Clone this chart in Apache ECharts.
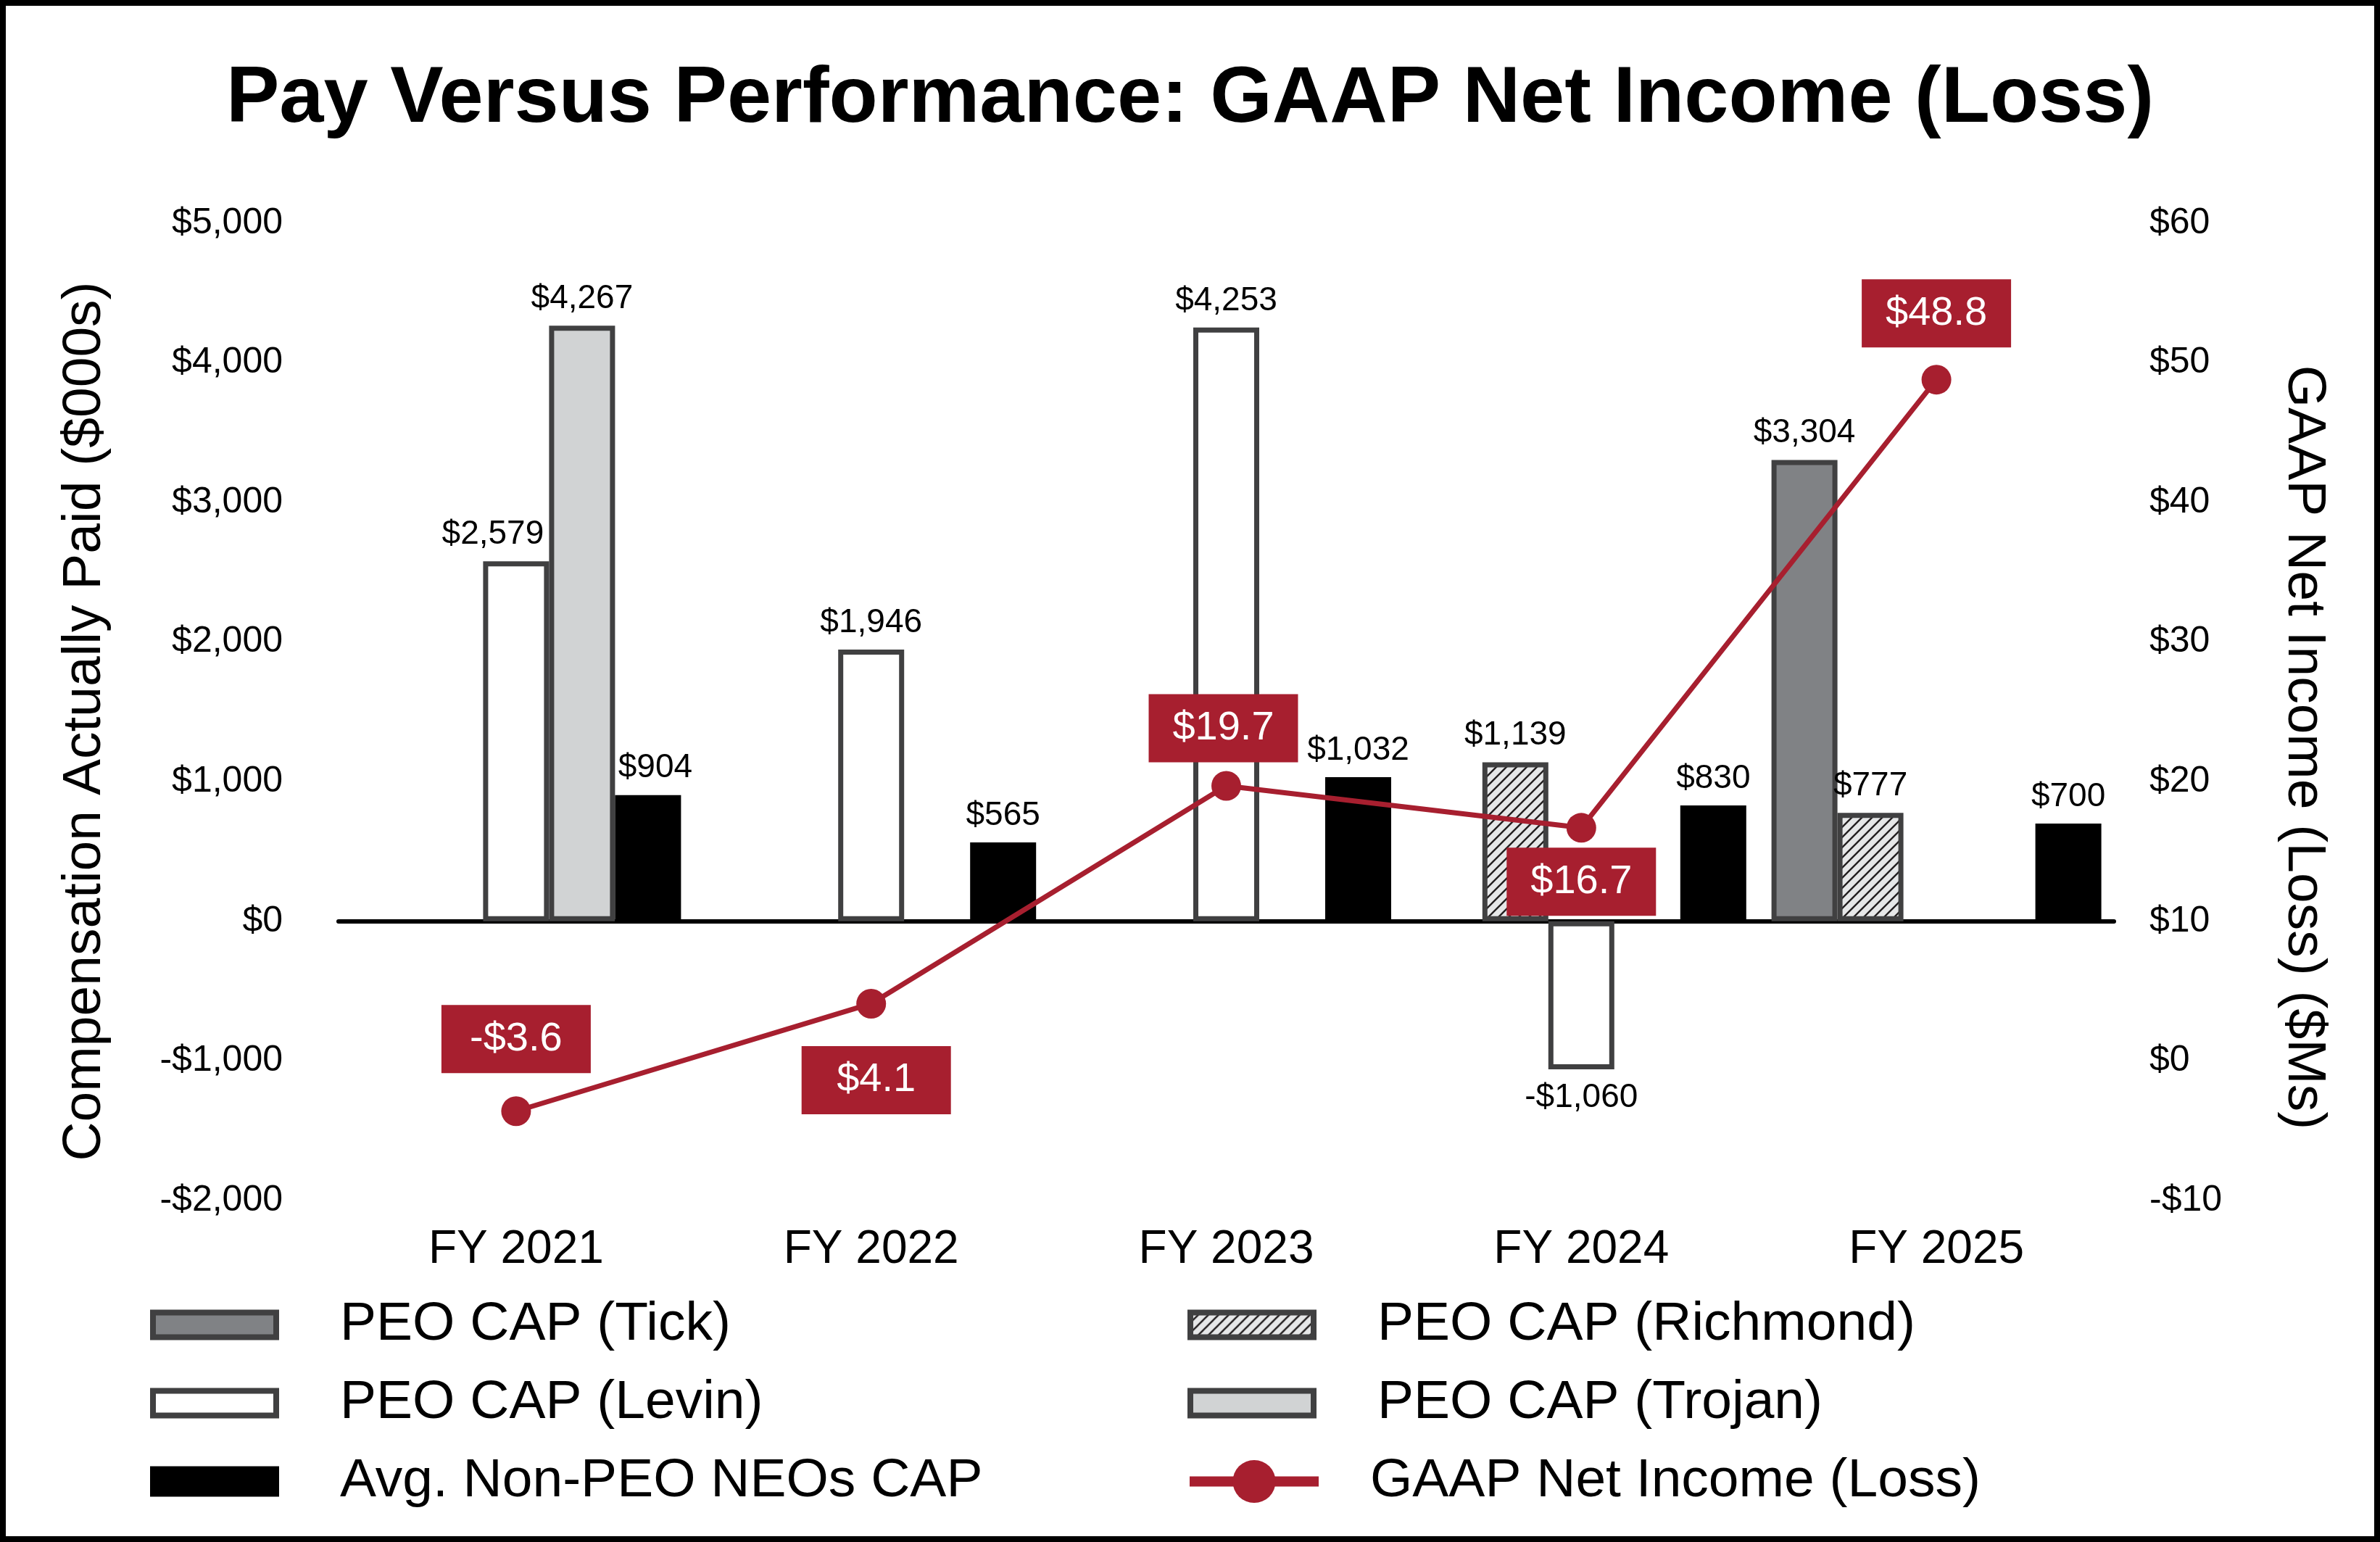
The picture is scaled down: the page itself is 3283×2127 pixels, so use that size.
<!DOCTYPE html>
<html>
<head>
<meta charset="utf-8">
<script src="https://cdn.jsdelivr.net/npm/echarts@6/dist/echarts.min.js"></script>
<style>
html,body{margin:0;padding:0;background:#fff;}
#chart{width:3283px;height:2127px;}
</style>
</head>
<body>
<div id="chart"></div>
<script>
// ---------- data ----------
var categories = ['FY 2021', 'FY 2022', 'FY 2023', 'FY 2024', 'FY 2025'];
var peoTick = [null, null, null, null, 3304];
var peoRichmond = [null, null, null, 1139, 777];
var peoLevin = [2579, 1946, 4253, -1060, null];
var peoTrojan = [4267, null, null, null, null];
var avgNeo = [904, 565, 1032, 830, 700];
var netIncome = [-3.6, 4.1, 19.7, 16.7, 48.8];
var leftTicks = { min: -2000, max: 5000, interval: 1000 };
var rightTicks = { min: -10, max: 60, interval: 10 };

// label placement (style only)
var niLabelPos = ['top', 'bottom', 'top', 'bottom', 'top'];
var niLabelDist = [32, 38, 12, 7, 24];
var niLabelOffX = [0, 7, -4, 0, 0];
var levinLabelOffX = [-32, 0, 0, 0, 0];
var neoLabelOffX = [10, 0, 0, 0, 0];
var zeroOff = [0, 0, 0, 0, 0];

var FONT = '"Liberation Sans", Arial, Helvetica, sans-serif';
var RED = '#A71F2F';
var EDGE = '#404041';

function money(v) {
  var a = Math.abs(v).toLocaleString('en-US');
  return (v < 0 ? '-$' : '$') + a;
}
function money1(v) {
  return (v < 0 ? '-$' : '$') + Math.abs(v).toFixed(1);
}

function hatch() {
  var s = 14, c = document.createElement('canvas');
  c.width = s; c.height = s;
  var g = c.getContext('2d');
  g.fillStyle = '#e6e7e8'; g.fillRect(0, 0, s, s);
  g.strokeStyle = '#231f20'; g.lineWidth = 2.4; g.beginPath();
  g.moveTo(-2, s + 2); g.lineTo(s + 2, -2);
  g.moveTo(-2, 2); g.lineTo(2, -2);
  g.moveTo(s - 2, s + 2); g.lineTo(s + 2, s - 2);
  g.stroke();
  return c;
}

var barLabel = {
  show: true, position: 'top', distance: 14,
  fontFamily: FONT, fontSize: 46, color: '#000',
  formatter: function (p) { return p.value == null ? '' : money(p.value); }
};

function barData(arr, offs) {
  return arr.map(function (v, i) {
    if (v == null) return null;
    if (v < 0) {
      return { value: v, label: { position: 'bottom', distance: 16, offset: [offs[i], 0] } };
    }
    return { value: v, label: { offset: [offs[i], 0] } };
  });
}

function barSeries(name, arr, fill, border, offs) {
  return {
    name: name, type: 'bar', data: barData(arr, offs || zeroOff),
    xAxisIndex: 0, yAxisIndex: 0,
    barWidth: 91, barGap: '0%',
    itemStyle: { color: fill, borderColor: border, borderWidth: 7 },
    label: barLabel,
    emphasis: { disabled: true }
  };
}

var chart = echarts.init(document.getElementById('chart'), null, { renderer: 'canvas' });

function legendText(pad) {
  return { fontFamily: FONT, fontSize: 75, color: '#000', padding: [0, 0, 0, pad] };
}

var option = {
  backgroundColor: '#fff',
  animation: false,
  title: {
    text: 'Pay Versus Performance: GAAP Net Income (Loss)',
    left: 'center', top: 78,
    textStyle: { fontFamily: FONT, fontSize: 110, fontWeight: 'bold', color: '#000' }
  },
  grid: { left: 467, right: 367, top: 308, bottom: 2127 - 1656 },
  legend: [
    {
      orient: 'vertical', left: 202, top: 1785, itemWidth: 170, itemHeight: 34, itemGap: 33,
      icon: 'rect', selectedMode: false, textStyle: legendText(83),
      itemStyle: { borderWidth: 8 },
      data: ['PEO CAP (Tick)', 'PEO CAP (Levin)', 'Avg. Non-PEO NEOs CAP']
    },
    {
      orient: 'vertical', left: 1633, top: 1785, itemWidth: 170, itemHeight: 34, itemGap: 33,
      icon: 'rect', selectedMode: false, textStyle: legendText(83),
      itemStyle: { borderWidth: 8 },
      data: ['PEO CAP (Richmond)', 'PEO CAP (Trojan)']
    },
    {
      orient: 'vertical', left: 1629, top: 2001, itemWidth: 178, itemHeight: 74,
      selectedMode: false, textStyle: legendText(66),
      lineStyle: { width: 14 },
      data: ['GAAP Net Income (Loss)']
    }
  ],
  xAxis: [
    {
      type: 'category', data: categories, position: 'bottom',
      axisLine: { show: false, onZero: false }, axisTick: { show: false },
      axisLabel: { fontFamily: FONT, fontSize: 64, color: '#000', margin: 36 },
      splitLine: { show: false }
    },
    {
      type: 'category', data: categories, position: 'bottom',
      axisLine: { show: true, onZero: true, lineStyle: { color: '#000', width: 6 } },
      axisTick: { show: false }, axisLabel: { show: false }, splitLine: { show: false }
    }
  ],
  yAxis: [
    {
      type: 'value', min: leftTicks.min, max: leftTicks.max, interval: leftTicks.interval,
      axisLine: { show: false }, axisTick: { show: false }, splitLine: { show: false },
      axisLabel: { fontFamily: FONT, fontSize: 50, color: '#000', margin: 77, formatter: money }
    },
    {
      type: 'value', min: rightTicks.min, max: rightTicks.max, interval: rightTicks.interval,
      position: 'right',
      axisLine: { show: false }, axisTick: { show: false }, splitLine: { show: false },
      axisLabel: { fontFamily: FONT, fontSize: 50, color: '#000', margin: 49, formatter: money }
    }
  ],
  series: [
    barSeries('PEO CAP (Tick)', peoTick, '#808285', EDGE),
    barSeries('PEO CAP (Richmond)', peoRichmond, { image: hatch(), repeat: 'repeat' }, EDGE),
    barSeries('PEO CAP (Levin)', peoLevin, '#ffffff', EDGE, levinLabelOffX),
    barSeries('PEO CAP (Trojan)', peoTrojan, '#D1D3D4', EDGE),
    barSeries('Avg. Non-PEO NEOs CAP', avgNeo, '#000000', '#000000', neoLabelOffX),
    {
      name: 'GAAP Net Income (Loss)', type: 'line', xAxisIndex: 0, yAxisIndex: 1, z: 10,
      data: netIncome.map(function (v, i) {
        return {
          value: v,
          label: { position: niLabelPos[i], distance: niLabelDist[i], offset: [niLabelOffX[i], 0] }
        };
      }),
      symbol: 'circle', symbolSize: 41,
      lineStyle: { color: RED, width: 7 },
      itemStyle: { color: RED },
      label: {
        show: true, fontFamily: FONT, fontSize: 56, color: '#fff',
        backgroundColor: RED, width: 206, height: 94, lineHeight: 94, align: 'center',
        formatter: function (p) { return money1(p.value); }
      },
      emphasis: { disabled: true }
    }
  ],
  graphic: [
    {
      type: 'text', silent: true, x: 117, y: 995, rotation: Math.PI / 2,
      style: {
        text: 'Compensation Actually Paid ($000s)', fill: '#000',
        font: '75px ' + FONT, align: 'center', verticalAlign: 'middle'
      }
    },
    {
      type: 'text', silent: true, x: 3178, y: 1031, rotation: -Math.PI / 2,
      style: {
        text: 'GAAP Net Income (Loss) ($Ms)', fill: '#000',
        font: '75px ' + FONT, align: 'center', verticalAlign: 'middle'
      }
    },
    {
      type: 'rect', silent: true, z: 100,
      shape: { x: 4, y: 4, width: 3275, height: 2119 },
      style: { fill: 'none', stroke: '#000', lineWidth: 8 }
    }
  ]
};

chart.setOption(option);
</script>
</body>
</html>
